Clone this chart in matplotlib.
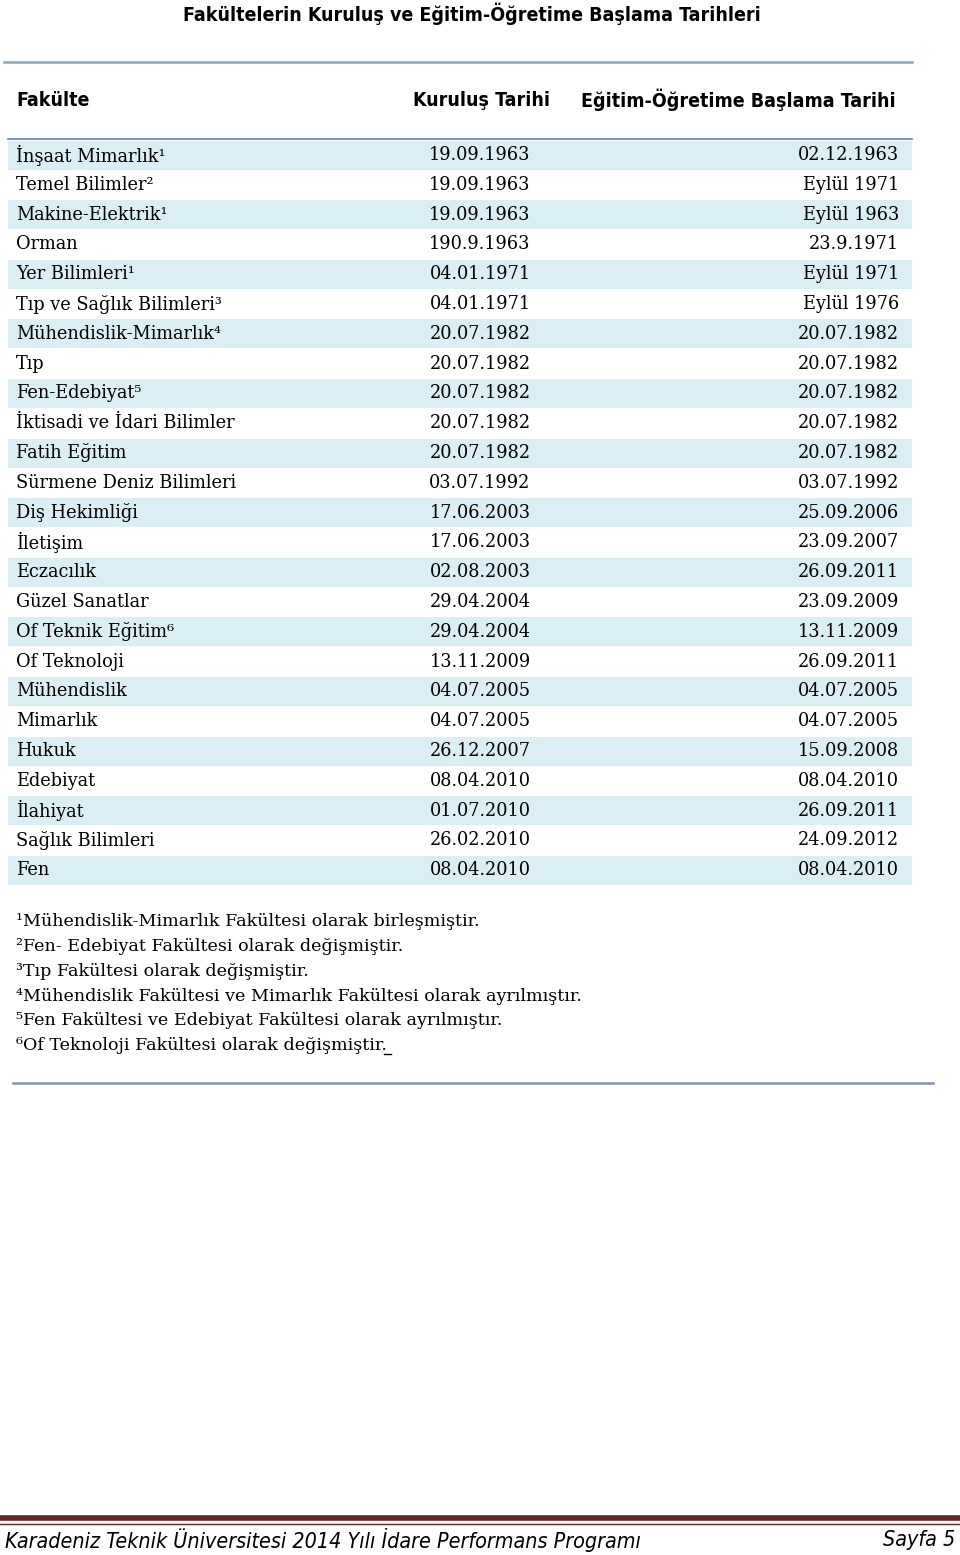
import matplotlib.pyplot as plt

# tablo verileri
fakulteler = ["İnşaat Mimarlık", "Temel Bilimler", "Makine-Elektrik", "Orman", "Yer Bilimleri",
              "Tıp ve Sağlık Bilimleri", "Mühendislik-Mimarlık", "Tıp", "Fen-Edebiyat",
              "İktisadi ve İdari Bilimler", "Fatih Eğitim", "Sürmene Deniz Bilimleri",
              "Diş Hekimliği", "İletişim", "Eczacılık", "Güzel Sanatlar", "Of Teknik Eğitim",
              "Of Teknoloji", "Mühendislik", "Mimarlık", "Hukuk", "Edebiyat", "İlahiyat",
              "Sağlık Bilimleri", "Fen"]
dipnot_no = ["¹", "²", "¹", "", "¹", "³", "⁴", "", "⁵", "", "", "", "", "", "", "", "⁶",
             "", "", "", "", "", "", "", ""]
kurulus = ["19.09.1963", "19.09.1963", "19.09.1963", "190.9.1963", "04.01.1971", "04.01.1971",
           "20.07.1982", "20.07.1982", "20.07.1982", "20.07.1982", "20.07.1982", "03.07.1992",
           "17.06.2003", "17.06.2003", "02.08.2003", "29.04.2004", "29.04.2004", "13.11.2009",
           "04.07.2005", "04.07.2005", "26.12.2007", "08.04.2010", "01.07.2010", "26.02.2010",
           "08.04.2010"]
baslama = ["02.12.1963", "Eylül 1971", "Eylül 1963", "23.9.1971", "Eylül 1971", "Eylül 1976",
           "20.07.1982", "20.07.1982", "20.07.1982", "20.07.1982", "20.07.1982", "03.07.1992",
           "25.09.2006", "23.09.2007", "26.09.2011", "23.09.2009", "13.11.2009", "26.09.2011",
           "04.07.2005", "04.07.2005", "15.09.2008", "08.04.2010", "26.09.2011", "24.09.2012",
           "08.04.2010"]
dipnotlar = ["¹Mühendislik-Mimarlık Fakültesi olarak birleşmiştir.",
             "²Fen- Edebiyat Fakültesi olarak değişmiştir.",
             "³Tıp Fakültesi olarak değişmiştir.",
             "⁴Mühendislik Fakültesi ve Mimarlık Fakültesi olarak ayrılmıştır.",
             "⁵Fen Fakültesi ve Edebiyat Fakültesi olarak ayrılmıştır.",
             "⁶Of Teknoloji Fakültesi olarak değişmiştir."]

govde = ['DejaVu Serif']
baslik = ['DejaVu Sans']

fig = plt.figure(figsize=(9.6, 15.55), dpi=100)
ax = fig.add_axes([0, 0, 1, 1])
ax.set_xlim(0, 960)
ax.set_ylim(1555, 0)
ax.axis('off')

ax.text(472, 14, "Fakültelerin Kuruluş ve Eğitim-Öğretime Başlama Tarihleri", ha='center', va='center',
        fontsize=14, fontweight='bold', family=baslik, fontstretch='condensed')
ax.plot([4, 912], [62, 62], color='#8DA4BE', lw=1.8)

ax.text(16, 100, "Fakülte", ha='left', va='center', fontsize=14, fontweight='bold', family=baslik,
        fontstretch='condensed')
ax.text(550, 100, "Kuruluş Tarihi", ha='right', va='center', fontsize=14, fontweight='bold',
        family=baslik, fontstretch='condensed')
ax.text(896, 100, "Eğitim-Öğretime Başlama Tarihi", ha='right', va='center', fontsize=14,
        fontweight='bold', family=baslik, fontstretch='condensed')

y0, dy = 155, 29.8
for i in range(len(fakulteler)):
    y = y0 + i * dy
    if i % 2 == 0:
        ax.fill_between([8, 912], y - 14.5, y + 14.5, color='#DBEEF4', lw=0)
    ax.text(16, y, fakulteler[i] + dipnot_no[i], ha='left', va='center', fontsize=12.8, family=govde)
    ax.text(480, y, kurulus[i], ha='center', va='center', fontsize=12.8, family=govde)
    ax.text(899, y, baslama[i], ha='right', va='center', fontsize=12.8, family=govde)
ax.plot([8, 912], [139, 139], color='#5B83B0', lw=1.2)

for j, d in enumerate(dipnotlar):
    ax.text(16, 922 + j * 24.7, d, ha='left', va='center', fontsize=12.6, family=govde)
# son noktanın altı çizili
ax.plot([384, 391], [1054, 1054], color='black', lw=1)
ax.plot([13, 933], [1083, 1083], color='#8196AE', lw=1.8)

ax.plot([0, 960], [1518, 1518], color='#632523', lw=4)
ax.plot([0, 960], [1524, 1524], color='#632523', lw=1)
ax.text(5, 1540, "Karadeniz Teknik Üniversitesi 2014 Yılı İdare Performans Programı", ha='left',
        va='center', fontsize=15.4, fontstyle='italic', family=baslik, fontstretch='condensed')
ax.text(955, 1540, "Sayfa 5", ha='right', va='center', fontsize=15.4, fontstyle='italic',
        family=baslik, fontstretch='condensed')

fig.savefig('out.png', dpi=100)
